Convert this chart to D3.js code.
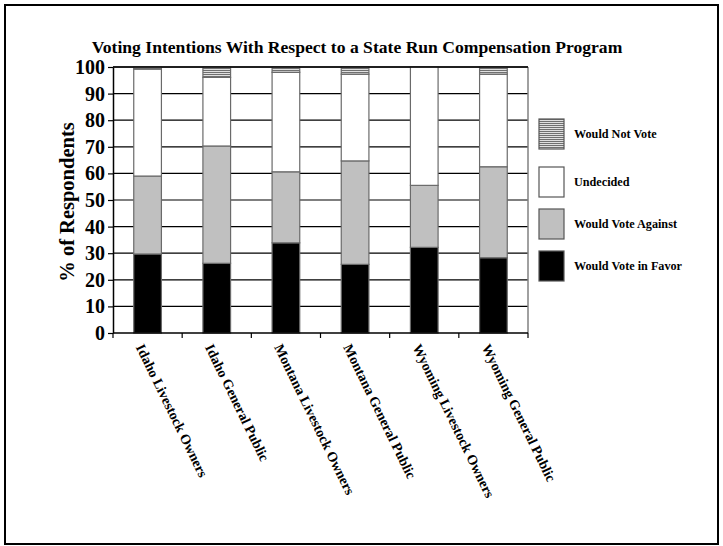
<!DOCTYPE html>
<html><head><meta charset="utf-8">
<script src="https://cdn.jsdelivr.net/npm/d3@7"></script>
<style>
html,body{margin:0;padding:0;background:#fff;}
svg{display:block;}
text{font-family:"Liberation Serif","Times New Roman",serif;font-weight:bold;fill:#000;}
</style></head>
<body>
<script>
const categories = ["Idaho Livestock Owners","Idaho General Public","Montana Livestock Owners","Montana General Public","Wyoming Livestock Owners","Wyoming General Public"];
const favor     = [29.7, 26.2, 33.9, 25.8, 32.2, 28.3];
const against   = [29.3, 44.1, 26.7, 38.9, 23.3, 34.2];
const undecided = [40.2, 25.8, 37.4, 32.6, 44.5, 34.8];
const notVote   = [0.8, 3.9, 2.0, 2.7, 0.0, 2.7];
const seriesNames = ["Would Vote in Favor","Would Vote Against","Undecided","Would Not Vote"];
const yTicks = [0,10,20,30,40,50,60,70,80,90,100];
const titleText = "Voting Intentions With Respect to a State Run Compensation Program";
const yTitle = "% of Respondents";

const W = 723, H = 546;
const svg = d3.select("body").append("svg").attr("width", W).attr("height", H);
const defs = svg.append("defs");
const pat = defs.append("pattern").attr("id","hatch").attr("patternUnits","userSpaceOnUse")
  .attr("width",4).attr("height",2);
pat.append("rect").attr("width",4).attr("height",2).attr("fill","#e0e0e0");
pat.append("rect").attr("width",4).attr("height",1).attr("fill","#707070");

const fills = ["#000000","#c0c0c0","#ffffff","url(#hatch)"];

// outer frame
svg.append("rect").attr("x",5).attr("y",5).attr("width",713).attr("height",539)
  .attr("fill","none").attr("stroke","#000").attr("stroke-width",2);

const m = {left:113, right:528, top:67, bottom:333};
const x = d3.scaleBand().domain(categories).range([m.left, m.right]).paddingInner(0.6).paddingOuter(0.3);
const y = d3.scaleLinear().domain([0,100]).range([m.bottom, m.top]);

// gridlines
svg.append("g").selectAll("line").data(yTicks.filter(d=>d>0)).join("line")
  .attr("x1",m.left).attr("x2",m.right).attr("y1",d=>y(d)).attr("y2",d=>y(d))
  .attr("stroke","#000").attr("stroke-width",1.2);
// right border
svg.append("line").attr("x1",m.right).attr("x2",m.right).attr("y1",m.top).attr("y2",m.bottom)
  .attr("stroke","#808080").attr("stroke-width",1.5);

const data = categories.map((c,i)=>({cat:c, "Would Vote in Favor":favor[i], "Would Vote Against":against[i], "Undecided":undecided[i], "Would Not Vote":notVote[i]}));
const stack = d3.stack().keys(seriesNames)(data);

svg.append("g").selectAll("g").data(stack).join("g")
  .attr("fill",(d,i)=>fills[i])
  .selectAll("rect").data(d=>d.filter(p=>p[1]-p[0]>0)).join("rect")
  .attr("x",d=>x(d.data.cat)).attr("width",x.bandwidth())
  .attr("y",d=>y(Math.min(d[1],100))).attr("height",d=>y(d[0])-y(Math.min(d[1],100)))
  .attr("stroke","#6a6a6a").attr("stroke-width",1.2);

// y axis
const yAxis = svg.append("g").attr("transform",`translate(${m.left},0)`)
  .call(d3.axisLeft(y).tickValues(yTicks).tickSize(5).tickSizeOuter(0).tickPadding(3));
yAxis.select(".domain").attr("stroke","#000").attr("stroke-width",1.5);
yAxis.selectAll(".tick line").attr("stroke","#000").attr("stroke-width",1.2);
yAxis.selectAll("text").attr("font-size",20).style("font-family","'Liberation Serif',serif").style("font-weight","bold").attr("fill","#000");

// x axis baseline and ticks at band boundaries
const bounds = d3.range(categories.length+1).map(i=>m.left + i*(m.right-m.left)/categories.length);
svg.append("line").attr("x1",m.left).attr("x2",m.right).attr("y1",m.bottom).attr("y2",m.bottom)
  .attr("stroke","#000").attr("stroke-width",1.5);
svg.append("g").selectAll("line").data(bounds).join("line")
  .attr("x1",d=>d).attr("x2",d=>d).attr("y1",m.bottom).attr("y2",m.bottom+5)
  .attr("stroke","#000").attr("stroke-width",1.2);
// top border
svg.append("line").attr("x1",m.left).attr("x2",m.right).attr("y1",m.top).attr("y2",m.top)
  .attr("stroke","#000").attr("stroke-width",1.5);

// x labels
svg.append("g").selectAll("text").data(categories).join("text")
  .attr("transform",d=>`translate(${x(d)+x.bandwidth()/2-12},${m.bottom+14}) rotate(64)`)
  .attr("font-size",14).attr("text-anchor","start").text(d=>d);

// title
svg.append("text").attr("x",357).attr("y",53).attr("text-anchor","middle").attr("font-size",17.6).text(titleText);
// y title
svg.append("text").attr("transform","translate(74,202) rotate(-90)").attr("text-anchor","middle")
  .attr("font-size",20.5).text(yTitle);

// legend
const legOrder = ["Would Not Vote","Undecided","Would Vote Against","Would Vote in Favor"];
const legY = [119,167,209,251];
const lg = svg.append("g").selectAll("g").data(legOrder).join("g")
  .attr("transform",(d,i)=>`translate(539,${legY[i]})`);
lg.append("rect").attr("width",25).attr("height",30)
  .attr("fill",d=>fills[seriesNames.indexOf(d)]).attr("stroke","#555").attr("stroke-width",1.2);
lg.append("text").attr("x",35).attr("y",19).attr("font-size",12.2).text(d=>d);
</script>
</body></html>
